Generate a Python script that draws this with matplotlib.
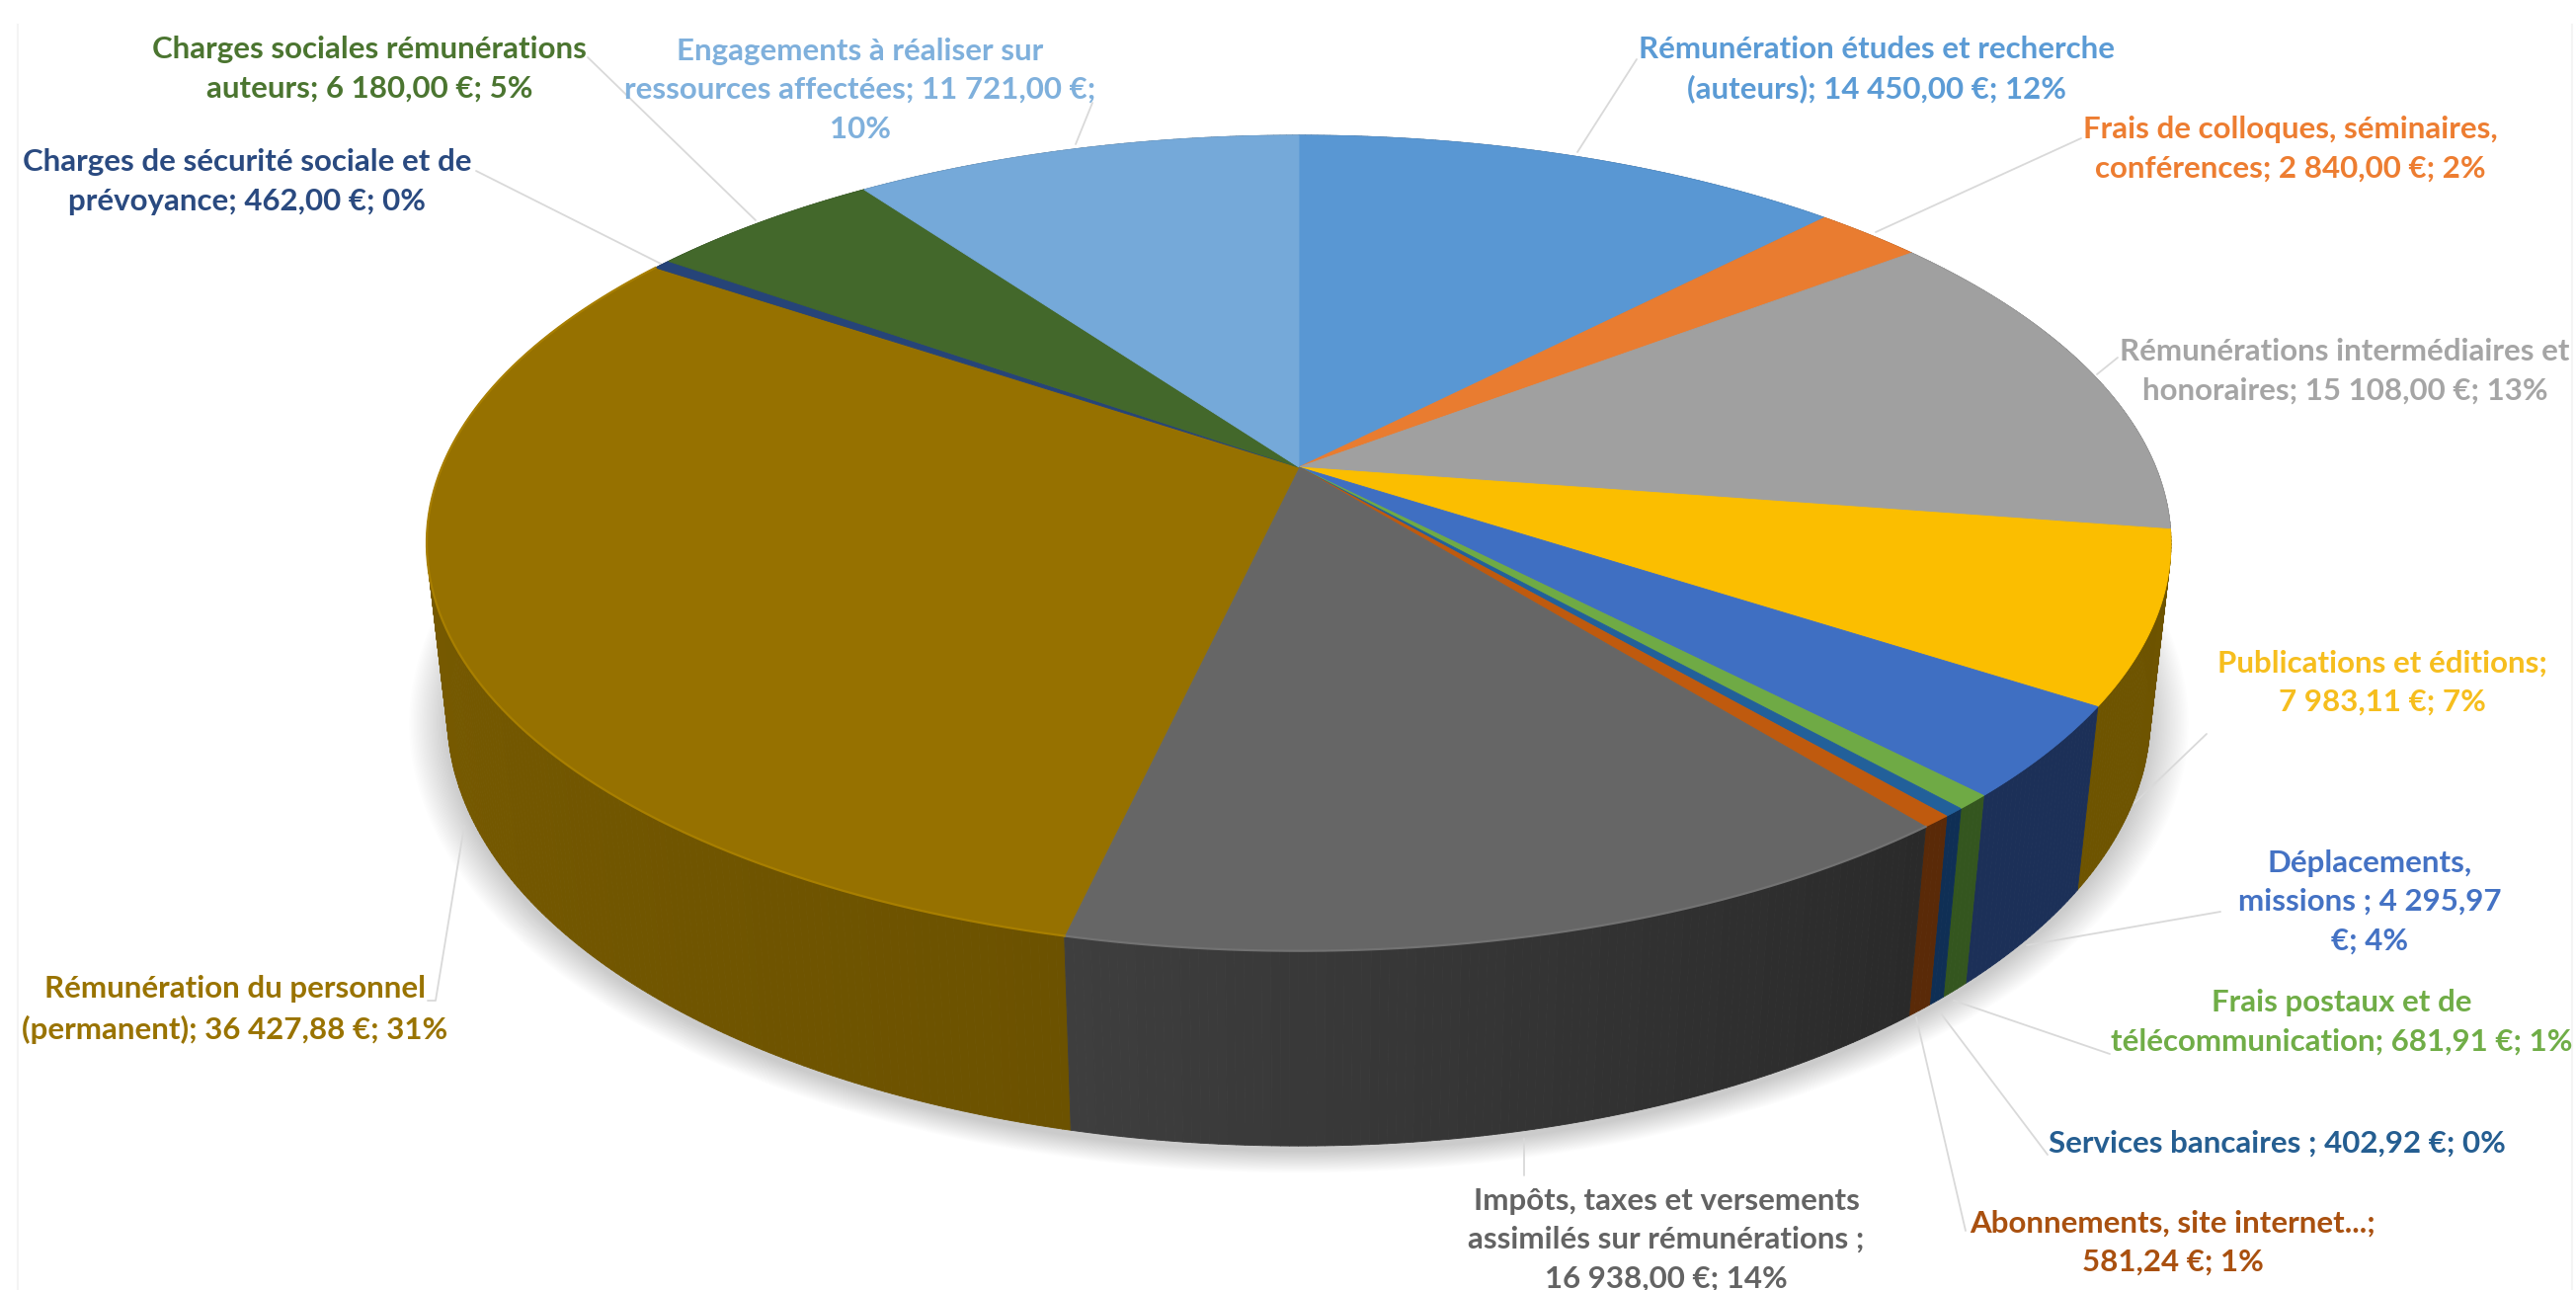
# -*- coding: utf-8 -*-
"""
3D style pie of the budget lines, drawn by hand with a perspective
projection of the disc.
"""

import numpy as np
import matplotlib
matplotlib.use("Agg")
import matplotlib.pyplot as plt
from matplotlib.collections import PolyCollection
from matplotlib.colors import to_rgb

# budget lines in euros, clockwise from 12 o'clock
values = [14450.00, 2840.00, 15108.00, 7983.11, 4295.97, 681.91, 402.92,
          581.24, 16938.00, 36427.88, 462.00, 6180.00, 11721.00]

labels = [
    "Rémunération études et recherche\n(auteurs); 14 450,00 €; 12%",
    "Frais de colloques, séminaires,\nconférences; 2 840,00 €; 2%",
    "Rémunérations intermédiaires et\nhonoraires; 15 108,00 €; 13%",
    "Publications et éditions;\n7 983,11 €; 7%",
    "Déplacements,\nmissions ; 4 295,97\n€; 4%",
    "Frais postaux et de\ntélécommunication; 681,91 €; 1%",
    "Services bancaires ; 402,92 €; 0%",
    "Abonnements, site internet...;\n581,24 €; 1%",
    "Impôts, taxes et versements\nassimilés sur rémunérations ;\n16 938,00 €; 14%",
    "Rémunération du personnel\n(permanent); 36 427,88 €; 31%",
    "Charges de sécurité sociale et de\nprévoyance; 462,00 €; 0%",
    "Charges sociales rémunérations\nauteurs; 6 180,00 €; 5%",
    "Engagements à réaliser sur\nressources affectées; 11 721,00 €;\n10%",
]

top_colors = ["#5997D3", "#E97C30", "#A0A0A0", "#FBBE00", "#3F6FC2", "#6FAA45",
              "#22609A", "#BF5A0E", "#666666", "#967100", "#264478", "#43682B",
              "#75A9D9"]
# wall colour at the start and at the end of each slice
wall_start = ["#2E4F70", "#7A3F18", "#505050", "#6E5400", "#1C3058", "#34561F",
              "#0F2F55", "#5A2A08", "#2A2A2A", "#6C5200", "#13223C", "#223416",
              "#3A556C"]
wall_end = ["#2E4F70", "#7A3F18", "#505050", "#6E5400", "#1C3058", "#34561F",
            "#0F2F55", "#5A2A08", "#3E3E3E", "#7F6000", "#13223C", "#223416",
            "#3A556C"]
text_colors = ["#5B9BD5", "#ED7D31", "#A5A5A5", "#F6BE1E", "#4472C4", "#70AD47",
               "#255E91", "#A9500F", "#636363", "#997300", "#2A4A80", "#4B7530",
               "#7FB0DC"]

# label block centres
label_x = [1900, 2319, 2374, 2412, 2399, 2371, 2305, 2200, 1687, 238, 250, 374, 871]
label_y = [70, 151, 376, 691, 913, 1035, 1158, 1258, 1255, 1022, 184, 70, 91]

# leader lines, x and y of each point
leader_x = [(1657, 1597), (2107, 1899), (2144, 2123), (2234, 2161), (2248, 2052),
            (2136, 1978), (2073, 1965), (1990, 1940), (1543, 1543), (433, 441, 470),
            (482, 669), (595, 765), (1106, 1089)]
leader_y = [(60, 154), (140, 235), (362, 379), (743, 813), (923, 957),
            (1067, 1013), (1169, 1026), (1246, 1030), (1190, 1153), (1013, 1013, 836),
            (173, 267), (58, 223), (104, 146)]

# projection of the disc
cx, cy = 1315.0, 473.0
ax_a, ax_b = 867.6, 398.6
persp = 0.186
vanish = (1315.0, 8000.0)
depth = 0.0235


def top_xy(ang):
    X, Y = np.sin(ang), np.cos(ang)
    w = 1 + persp * Y
    return cx + ax_a * X / w, cy - ax_b * Y / w


def bottom_xy(ang):
    x, y = top_xy(ang)
    w = 1 + persp * np.cos(ang)
    t = depth / (w + depth)
    return x + t * (vanish[0] - x), y + t * (vanish[1] - y)


fig = plt.figure(figsize=(26.08, 13.06), dpi=100, facecolor="white")
ax = fig.add_axes([0, 0, 1, 1])
ax.set_xlim(0, 2608)
ax.set_ylim(1306, 0)
ax.axis("off")

# faint chart frame
ax.plot([18, 18], [1306, 25], color="#F4F4F4", lw=1.5, zorder=0)
ax.plot([2604, 2604], [1306, 25], color="#F4F4F4", lw=1.5, zorder=0)

# soft shadow under the disc
full = np.linspace(0, 2 * np.pi, 721)
bx, by = bottom_xy(full)
for i in range(26):
    grow = 1 + 0.0018 * i
    sx = cx + (bx - cx) * grow
    sy = by.mean() + (by - by.mean()) * grow + 6
    ax.fill(sx, sy, color="black", alpha=0.007, lw=0, zorder=1)

total = np.sum(values)
edges = np.concatenate([[0.0], np.cumsum(values)]) / total * 2 * np.pi

# outer walls, back to front
quads, quad_colors, quad_depth = [], [], []
for i in range(len(values)):
    n = max(2, int(np.degrees(edges[i + 1] - edges[i]) * 2) + 1)
    ang = np.linspace(edges[i], edges[i + 1], n + 1)
    c0, c1 = np.array(to_rgb(wall_start[i])), np.array(to_rgb(wall_end[i]))
    tx, ty = top_xy(ang)
    ux, uy = bottom_xy(ang)
    for j in range(n):
        quads.append([(tx[j], ty[j]), (tx[j + 1], ty[j + 1]),
                      (ux[j + 1], uy[j + 1]), (ux[j], uy[j])])
        quad_colors.append(c0 + (c1 - c0) * (j + 0.5) / n)
        quad_depth.append(np.cos(ang[j]))
order = np.argsort(quad_depth)[::-1]
walls = PolyCollection([quads[k] for k in order],
                       facecolors=[quad_colors[k] for k in order],
                       edgecolors=[quad_colors[k] for k in order],
                       linewidths=0.6, zorder=2)
ax.add_collection(walls)

# top faces
for i in range(len(values)):
    ang = np.linspace(edges[i], edges[i + 1], max(3, int(np.degrees(edges[i + 1] - edges[i]) * 2)))
    tx, ty = top_xy(ang)
    ax.fill(np.r_[cx, tx], np.r_[cy, ty], facecolor=top_colors[i],
            edgecolor=top_colors[i], lw=0.6, zorder=3)

# light rim along the front edge
for i in [8, 9]:
    ang = np.linspace(edges[i], edges[i + 1], 200)
    tx, ty = top_xy(ang)
    rim = np.array(to_rgb(top_colors[i])) * 1.12
    ax.plot(tx, ty, color=np.clip(rim, 0, 1), lw=1.6, zorder=4)

# leader lines
for xs, ys in zip(leader_x, leader_y):
    ax.plot(xs, ys, color="#D9D9D9", lw=1.3, zorder=1.5, solid_capstyle="round")

# data labels
for i in range(len(values)):
    ax.text(label_x[i], label_y[i], labels[i], color=text_colors[i], ha="center",
            va="center", ma="center", fontsize=22.5, fontweight="bold", linespacing=1.5,
            family=["Lato", "DejaVu Sans"], zorder=5)

fig.savefig("out.png", dpi=100, facecolor="white")
